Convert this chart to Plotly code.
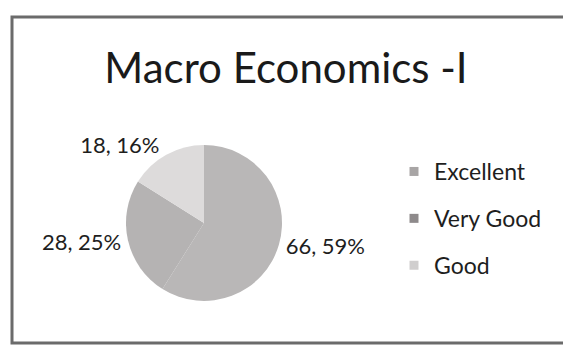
import plotly.graph_objects as go

categories = ["Excellent", "Very Good", "Good"]
values = [66, 28, 18]
slice_colors = ["#b9b7b7", "#b5b3b3", "#dddbdb"]
legend_colors = ["#a8a5a5", "#8e8a8b", "#d0cece"]
title_text = "Macro Economics -I"

W, H = 571, 347
OFF = 8  # page body margin offset
cx, cy, r = 204 - OFF, 223 - OFF, 78

fig = go.Figure()
fig.add_trace(go.Pie(
    labels=categories, values=values, sort=False, direction="clockwise", rotation=0,
    marker=dict(colors=slice_colors, line=dict(width=0)),
    texttemplate="%{value}, %{percent:.0%}", textposition="outside",
    textfont=dict(family="Lato", size=22, color="#1e1e1e"),
    showlegend=False, hoverinfo="skip",
    domain=dict(x=[(cx - r) / W, (cx + r) / W], y=[1 - (cy + r) / H, 1 - (cy - r) / H]),
))
for c, col in zip(categories, legend_colors):
    fig.add_trace(go.Scatter(
        x=[None], y=[None], mode="markers", name=c, legendgroup=c,
        marker=dict(symbol="square", size=9, color=col),
    ))

fig.update_layout(
    width=W, height=H, margin=dict(l=0, r=0, t=0, b=0),
    paper_bgcolor="white", plot_bgcolor="white",
    xaxis=dict(visible=False), yaxis=dict(visible=False),
    title=dict(text=title_text, x=(286 - OFF) / W, xanchor="center", y=1 - (68 - OFF) / H,
               yanchor="middle", font=dict(family="Lato", size=42, color="#1a1a1a")),
    legend=dict(x=(394 - OFF) / W, y=1 - (150 - OFF) / H, xanchor="left", yanchor="top",
                font=dict(family="Lato", size=23, color="#1e1e1e"),
                tracegroupgap=14, itemwidth=30, bgcolor="rgba(0,0,0,0)"),
    shapes=[dict(type="rect", xref="paper", yref="paper",
                 x0=(12 - OFF) / W, x1=(565 - OFF) / W,
                 y0=1 - (343 - OFF) / H, y1=1 - (17 - OFF) / H,
                 line=dict(color="#6b6b6b", width=3))],
)
fig.write_html("out.html")
